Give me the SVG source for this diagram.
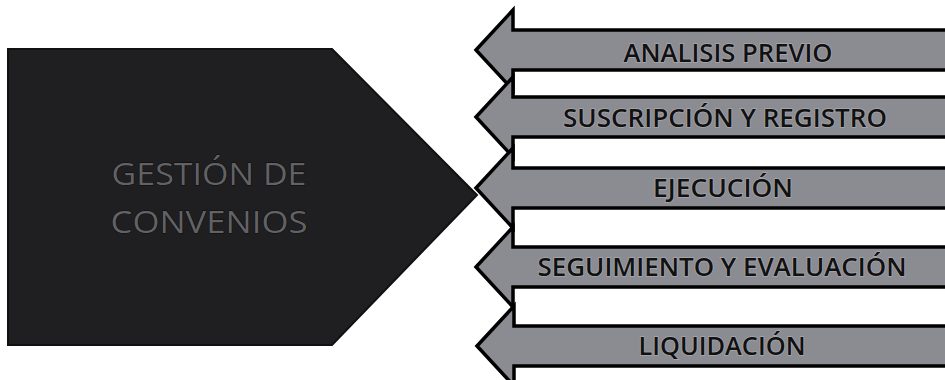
<svg xmlns="http://www.w3.org/2000/svg" width="945" height="380" viewBox="0 0 945 380">
<style>
.arrow{fill:#8b8b92;stroke:#000;stroke-width:3.5;stroke-linejoin:miter}
.lbl{font-family:"Open Sans","Liberation Sans",sans-serif;font-size:25px;font-weight:600;fill:#111;text-anchor:middle;stroke:#a8a8ae;stroke-width:1.5;paint-order:stroke}
.title{font-family:"Open Sans","Liberation Sans",sans-serif;font-size:31px;fill:#626264;text-anchor:middle;stroke:#0a0a0a;stroke-width:1;paint-order:stroke}
</style>
<rect width="945" height="380" fill="#ffffff"/>
<g id="gestion">
<polygon points="8,49 332,49 477,195 332,345 8,345" fill="#1f1f22" stroke="#111" stroke-width="2"/>
<text class="title" x="209" y="185" textLength="195" lengthAdjust="spacingAndGlyphs">GESTIÓN DE</text>
<text class="title" x="209" y="233" textLength="197" lengthAdjust="spacingAndGlyphs">CONVENIOS</text>
</g>
<g id="connectors">
<g id="analisis">
<polygon class="arrow" points="476,50 513,10 513,30 950,30 950,70 513,70 513,90"/>
<text class="lbl" x="728" y="62" textLength="209" lengthAdjust="spacingAndGlyphs">ANALISIS PREVIO</text>
</g>
<g id="suscripcion">
<polygon class="arrow" points="476,117 513,77 513,97 950,97 950,137 513,137 513,157"/>
<text class="lbl" x="725" y="127" textLength="324" lengthAdjust="spacingAndGlyphs">SUSCRIPCIÓN Y REGISTRO</text>
</g>
<g id="ejecucion">
<polygon class="arrow" points="476,188 513,148 513,168 950,168 950,208 513,208 513,228"/>
<text class="lbl" x="723" y="197" textLength="140" lengthAdjust="spacingAndGlyphs">EJECUCIÓN</text>
</g>
<g id="seguimiento">
<polygon class="arrow" points="476,267 513,227 513,247 950,247 950,287 513,287 513,307"/>
<text class="lbl" x="722" y="276" textLength="369" lengthAdjust="spacingAndGlyphs">SEGUIMIENTO Y EVALUACIÓN</text>
</g>
<g id="liquidacion">
<polygon class="arrow" points="477,346 514,306 514,326 950,326 950,366 514,366 514,386"/>
<text class="lbl" x="722" y="355" textLength="167" lengthAdjust="spacingAndGlyphs">LIQUIDACIÓN</text>
</g>
</g>
</svg>
